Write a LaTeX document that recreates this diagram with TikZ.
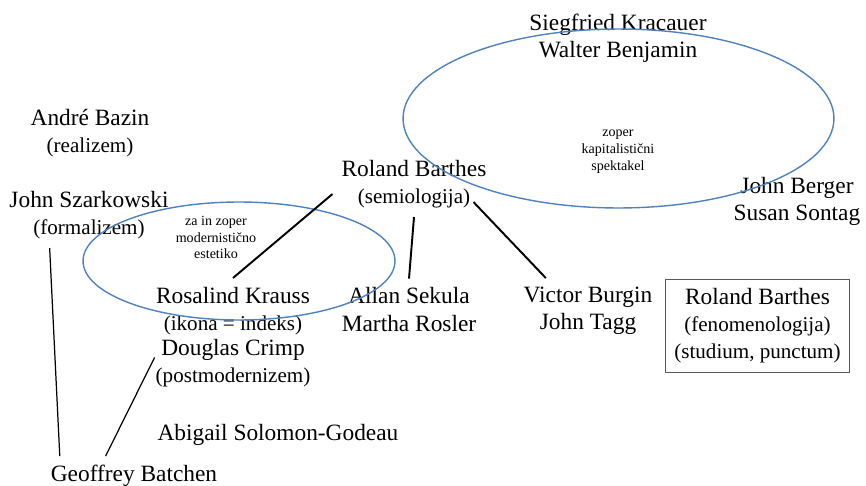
\documentclass[tikz,border=0pt]{standalone}
\usepackage{fontspec}
\setmainfont{Liberation Serif}

\newcommand\bigsz{\fontsize{13.3}{15.4}\selectfont}
\newcommand\midsz{\fontsize{12}{15.4}\selectfont}
\newcommand\smallsz{\fontsize{8}{9.5}\selectfont}

\definecolor{ringblue}{RGB}{79,129,189}
\definecolor{boxgray}{RGB}{89,89,89}

\begin{document}
\begin{tikzpicture}[x=0.02cm,y=0.02cm,
		person/.style={font=\bigsz,align=center,inner sep=5pt},
		remark/.style={font=\smallsz,align=center,inner sep=1pt},
		ring/.style={draw=ringblue,line width=0.8pt},
		link/.style={line width=1.1pt},
		thinlink/.style={line width=0.7pt}]
		\useasboundingbox (0,0) rectangle (866,-486);

		% people
		\node[person] (kracauer)   at (618,-38)    {Siegfried Kracauer\\Walter Benjamin};
		\node[person] (bazin)      at (90,-133)    {André Bazin\\{\midsz(realizem)}};
		\node[person] (szarkowski) at (89,-215)    {John Szarkowski\\{\midsz(formalizem)}};
		\node[person] (barthes)    at (414,-184)   {Roland Barthes\\{\midsz(semiologija)}};
		\node[person] (krauss)     at (233,-311)   {Rosalind Krauss\\{\midsz(ikona = indeks)}};
		\node[person] (crimp)      at (233,-363.5) {Douglas Crimp\\{\midsz(postmodernizem)}};
		\node[person] (solomon)    at (278,-434.5) {Abigail Solomon-Godeau};
		\node[person] (batchen)    at (134,-476)   {Geoffrey Batchen};
		\node[person] (sekula)     at (409,-309.5) {Allan Sekula\\Martha Rosler};
		\node[person] (burgin)     at (588,-311)   {Victor Burgin\\John Tagg};
		\node[person] (berger)     at (797,-201)   {John Berger\\Susan Sontag};
		\node[person,draw=boxgray,line width=0.7pt,minimum width=3.5cm,minimum height=1.76cm]
			(phenom) at (757.5,-326) {Roland Barthes\\{\midsz(fenomenologija)}\\{\midsz(studium, punctum)}};

		% groups
		\draw[ring] (618.5,-118.5) ellipse [x radius=4.31cm, y radius=1.79cm];
		\draw[ring] (239,-261) ellipse [x radius=3.12cm, y radius=1.18cm];
		\node[remark] (spectacle) at (618,-151.5) {zoper\\kapitalistični\\spektakel};
		\node[remark] (modern)    at (216,-237.5) {za in zoper\\modernistično\\estetiko};

		\path[link]
			(barthes.187) edge (krauss.north)
			(barthes.south) edge (sekula.north)
			([shift={(-22,15)}]barthes.south east) edge (burgin.142);
		\path[thinlink]
			(szarkowski.220) edge (batchen.165)
			([shift={(8,0)}]crimp.176) edge (batchen.145);
	\end{tikzpicture}
\end{document}
